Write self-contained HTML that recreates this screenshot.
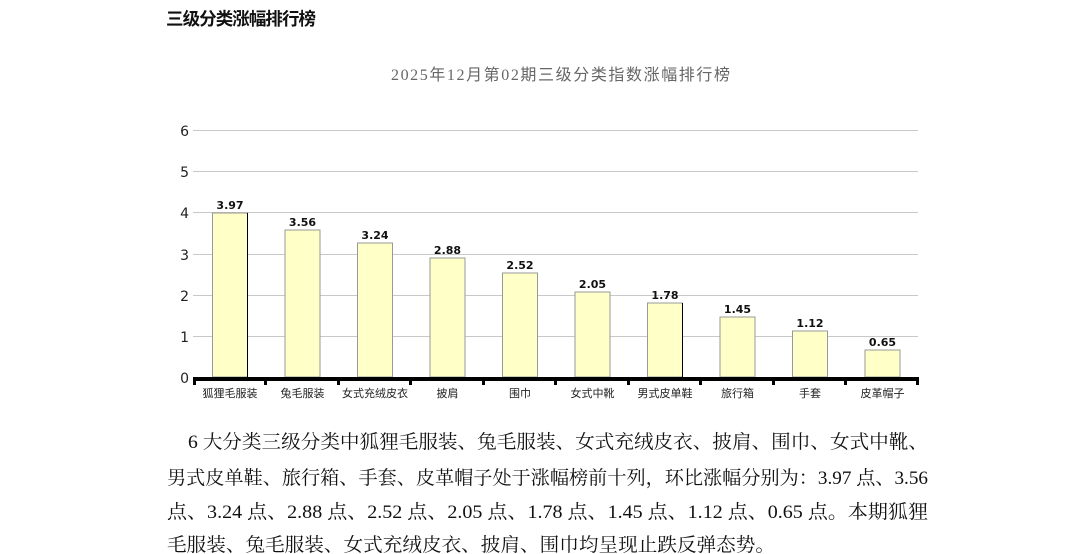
<!DOCTYPE html>
<html><head><meta charset="utf-8"><style>
html,body{margin:0;padding:0;background:#fff;}
svg{display:block;}
</style></head><body>
<svg width="1089" height="554" xmlns="http://www.w3.org/2000/svg">
<text x="166" y="25" font-family="'Liberation Sans','Noto Sans CJK SC',sans-serif" font-size="17.5" font-weight="bold" fill="#111" textLength="150">三级分类涨幅排行榜</text>
<text x="391" y="80" font-family="'Liberation Serif','Noto Sans CJK SC',serif" font-size="16" fill="#666" textLength="339">2025年12月第02期三级分类指数涨幅排行榜</text>
<g stroke="#c8c8c8" stroke-width="1">
<line x1="193" y1="130.5" x2="918" y2="130.5"/>
<line x1="193" y1="171.5" x2="918" y2="171.5"/>
<line x1="193" y1="212.5" x2="918" y2="212.5"/>
<line x1="193" y1="254.5" x2="918" y2="254.5"/>
<line x1="193" y1="295.5" x2="918" y2="295.5"/>
<line x1="193" y1="336.5" x2="918" y2="336.5"/>
</g>
<g font-family="'DejaVu Sans',sans-serif" font-size="14" fill="#222" text-anchor="end">
<text x="189" y="136">6</text><text x="189" y="177">5</text><text x="189" y="218">4</text>
<text x="189" y="260">3</text><text x="189" y="301">2</text><text x="189" y="342">1</text><text x="189" y="383">0</text>
</g>
<g fill="#ffffc8" stroke="#999" stroke-width="1">
<rect x="212.5" y="213" width="35" height="164"/>
<rect x="285" y="230" width="35" height="147"/>
<rect x="357.5" y="243" width="35" height="134"/>
<rect x="430" y="258" width="35" height="119"/>
<rect x="502.5" y="273" width="35" height="104"/>
<rect x="575" y="292" width="35" height="85"/>
<rect x="647.5" y="303" width="35" height="74"/>
<rect x="720" y="317" width="35" height="60"/>
<rect x="792.5" y="331" width="35" height="46"/>
<rect x="865" y="350" width="35" height="27"/>
</g>
<line x1="247.5" y1="213" x2="247.5" y2="377" stroke="#000"/>
<line x1="682.5" y1="303" x2="682.5" y2="377" stroke="#000"/>
<g font-family="'DejaVu Sans',sans-serif" font-size="11" font-weight="bold" fill="#111" text-anchor="middle">
<text x="230" y="209">3.97</text><text x="302.5" y="226">3.56</text><text x="375" y="239">3.24</text>
<text x="447.5" y="254">2.88</text><text x="520" y="269">2.52</text><text x="592.5" y="288">2.05</text>
<text x="665" y="299">1.78</text><text x="737.5" y="313">1.45</text><text x="810" y="327">1.12</text><text x="882.5" y="346">0.65</text>
</g>
<rect x="193" y="377" width="726" height="4" fill="#000"/>
<g fill="#000">
<rect x="193" y="377" width="3" height="8"/><rect x="264" y="377" width="3" height="8"/><rect x="337" y="377" width="3" height="8"/>
<rect x="409" y="377" width="3" height="8"/><rect x="482" y="377" width="3" height="8"/><rect x="554" y="377" width="3" height="8"/>
<rect x="627" y="377" width="3" height="8"/><rect x="699" y="377" width="3" height="8"/><rect x="772" y="377" width="3" height="8"/>
<rect x="844" y="377" width="3" height="8"/><rect x="916" y="377" width="3" height="8"/>
</g>
<g font-family="'Liberation Sans','Noto Sans CJK SC',sans-serif" font-size="11" fill="#222" text-anchor="middle">
<text x="230" y="397">狐狸毛服装</text><text x="302.5" y="397">兔毛服装</text><text x="375" y="397">女式充绒皮衣</text>
<text x="447.5" y="397">披肩</text><text x="520" y="397">围巾</text><text x="592.5" y="397">女式中靴</text>
<text x="665" y="397">男式皮单鞋</text><text x="737.5" y="397">旅行箱</text><text x="810" y="397">手套</text><text x="882.5" y="397">皮革帽子</text>
</g>
<g font-family="'Liberation Serif','Noto Serif CJK SC',serif" font-size="19" fill="#111">
<text x="188" y="448" textLength="740" lengthAdjust="spacingAndGlyphs">6 大分类三级分类中狐狸毛服装、兔毛服装、女式充绒皮衣、披肩、围巾、女式中靴、</text>
<text x="167" y="484" textLength="761" lengthAdjust="spacingAndGlyphs">男式皮单鞋、旅行箱、手套、皮革帽子处于涨幅榜前十列，环比涨幅分别为：3.97 点、3.56</text>
<text x="167" y="518" textLength="761" lengthAdjust="spacingAndGlyphs">点、3.24 点、2.88 点、2.52 点、2.05 点、1.78 点、1.45 点、1.12 点、0.65 点。本期狐狸</text>
<text x="167" y="551" textLength="608" lengthAdjust="spacingAndGlyphs">毛服装、兔毛服装、女式充绒皮衣、披肩、围巾均呈现止跌反弹态势。</text>
</g>
</svg>
</body></html>
